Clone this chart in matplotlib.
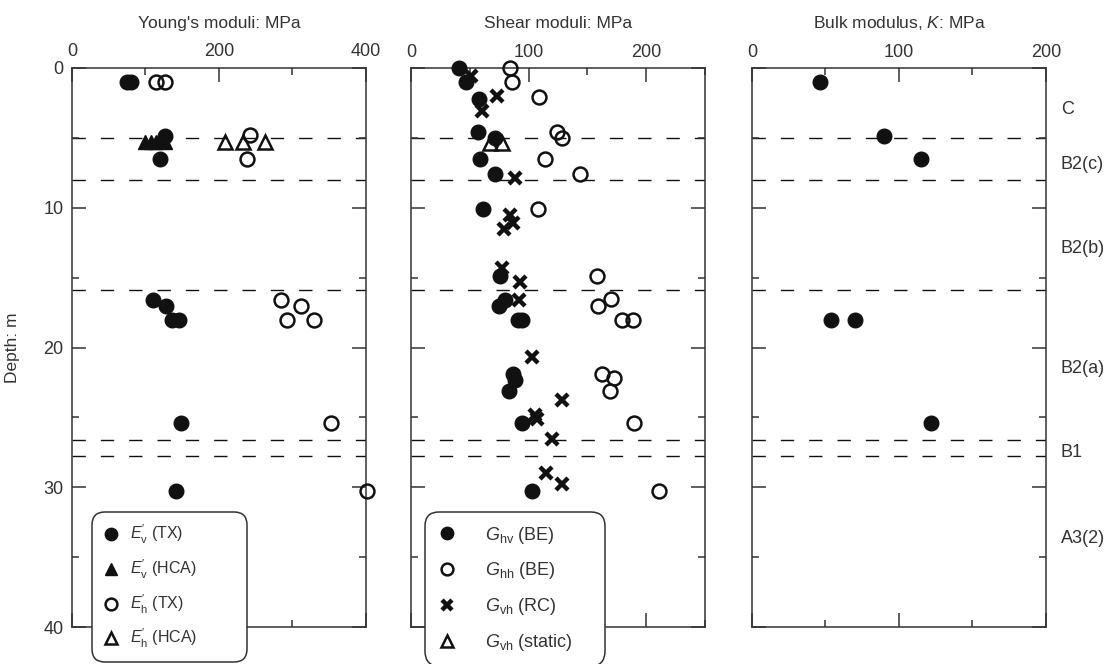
import numpy as np
import matplotlib
matplotlib.use('Agg')
import matplotlib.pyplot as plt
from matplotlib.ticker import MultipleLocator

plt.rcParams['font.family'] = ['Liberation Sans', 'DejaVu Sans']
plt.rcParams['mathtext.fontset'] = 'custom'
plt.rcParams['mathtext.rm'] = 'Liberation Sans'
plt.rcParams['mathtext.it'] = 'Liberation Sans:italic'
plt.rcParams['lines.scale_dashes'] = False

INK = '#111111'
GREY = '#333333'

# --- Young's moduli (MPa) vs depth (m) ---
ev_tx_depth = [1.0, 1.0, 4.9, 6.5, 16.6, 17.0, 18.0, 18.0, 25.4, 30.3]
ev_tx_val = [75, 81, 126, 120, 110, 128, 136, 145, 148, 142]
ev_hca_depth = [5.3, 5.3, 5.3, 5.3]
ev_hca_val = [99, 108, 115, 127]
eh_tx_depth = [1.0, 1.0, 4.8, 6.5, 16.6, 17.0, 18.0, 18.0, 25.4, 30.3]
eh_tx_val = [114, 127, 242, 238, 284, 312, 293, 329, 352, 402]
eh_hca_depth = [5.3, 5.3, 5.3]
eh_hca_val = [208, 233, 263]

# --- Shear moduli (MPa) ---
ghv_be_depth = [0.0, 1.0, 2.2, 4.6, 5.0, 6.5, 7.6, 10.1, 14.9, 16.6, 17.0, 18.0, 18.0,
                21.9, 22.3, 23.1, 25.4, 30.3]
ghv_be_val = [41, 47, 58, 57, 71, 59, 71, 61, 76, 80, 75, 91, 94, 87, 88, 83, 94, 103]
ghh_be_depth = [0.0, 1.0, 2.1, 4.6, 5.0, 6.5, 7.6, 10.1, 14.9, 16.55, 17.0, 18.0, 18.0,
                21.9, 22.2, 23.1, 25.4, 30.3]
ghh_be_val = [84, 86, 109, 124, 128, 114, 144, 108, 158, 170, 159, 179, 189, 162, 173, 169, 190, 211]
gvh_rc_depth = [0.6, 2.0, 3.1, 7.9, 10.5, 11.1, 11.5, 14.3, 15.3, 16.6, 20.7, 23.75, 24.8,
                25.1, 26.55, 29.0, 29.8]
gvh_rc_val = [51, 73, 60, 88, 84, 87, 79, 77, 93, 92, 103, 128, 105, 107, 120, 115, 128]
gvh_static_depth = [5.4, 5.4]
gvh_static_val = [67, 77]

# --- Bulk modulus (MPa) ---
k_depth = [1.0, 4.9, 6.5, 18.0, 18.0, 25.4]
k_val = [46, 90, 115, 54, 70, 122]

# stratum boundaries and unit names
boundaries = [5.0, 8.0, 15.9, 26.65, 27.75]
units = ['C', 'B2(c)', 'B2(b)', 'B2(a)', 'B1', 'A3(2)']
unit_depths = [3.0, 6.9, 12.9, 21.5, 27.5, 33.7]

filled_o = dict(ls='none', marker='o', ms=10.5, mfc=INK, mec=INK, mew=1)
filled_t = dict(ls='none', marker='^', ms=10, mfc=INK, mec=INK, mew=1)
open_o = dict(ls='none', marker='o', ms=10, mfc='none', mec=INK, mew=1.8)
open_t = dict(ls='none', marker='^', ms=9.5, mfc='none', mec=INK, mew=1.8)
cross = dict(ls='none', marker='x', ms=9, mec=INK, mew=3.2)


def setup(ax, xmax, major, title):
    ax.set_xlim(0, xmax)
    ax.set_ylim(40, 0)
    ax.xaxis.set_major_locator(MultipleLocator(major))
    ax.xaxis.set_minor_locator(MultipleLocator(major / 2))
    ax.yaxis.set_major_locator(MultipleLocator(10))
    ax.yaxis.set_minor_locator(MultipleLocator(5))
    ax.tick_params(which='both', direction='in', top=True, bottom=True, left=True, right=True,
                   labeltop=True, labelbottom=False, colors=GREY, width=1.1, labelsize=13)
    ax.tick_params(which='major', length=10, pad=5)
    ax.tick_params(which='minor', length=5)
    for sp in ax.spines.values():
        sp.set_color(GREY)
        sp.set_linewidth(1.1)
    ax.text(0.5, 1.08, title, transform=ax.transAxes, ha='center', va='center',
            fontsize=12.5, color=GREY)
    for d in boundaries:
        ax.axhline(d, color=INK, lw=1.0, ls=(0, (9.6, 10.8)), zorder=1)


fig = plt.figure(figsize=[11.07, 6.64], dpi=100)
w, h, b = 0.2656, 0.8419, 0.0557
ax_e = fig.add_axes([0.0650, b, w, h])
ax_g = fig.add_axes([0.3713, b, w, h])
ax_k = fig.add_axes([0.6793, b, w, h])

setup(ax_e, 400, 200, "Young's moduli: MPa")
setup(ax_g, 250, 100, 'Shear moduli: MPa')
setup(ax_k, 200, 100, r'Bulk modulus, $K$: MPa')
ax_g.tick_params(which='both', labelleft=False)
ax_k.tick_params(which='both', labelleft=False)
ax_e.tick_params(which='both', pad=6)
ax_e.set_ylabel('Depth: m', fontsize=12.5, color=GREY)
ax_e.yaxis.set_label_coords(-0.177, 0.5)

# Young's moduli
ax_e.plot(ev_tx_val, ev_tx_depth, label="$E^{′}_{\\mathrm{v}}$ (TX)", clip_on=False, zorder=3, **filled_o)
ax_e.plot(ev_hca_val, ev_hca_depth, label="$E^{′}_{\\mathrm{v}}$ (HCA)", clip_on=False, zorder=3, **filled_t)
ax_e.plot(eh_tx_val, eh_tx_depth, label="$E^{′}_{\\mathrm{h}}$ (TX)", clip_on=False, zorder=3, **open_o)
ax_e.plot(eh_hca_val, eh_hca_depth, label="$E^{′}_{\\mathrm{h}}$ (HCA)", clip_on=False, zorder=3, **open_t)

# Shear moduli
ax_g.plot(ghv_be_val, ghv_be_depth, label=r'$G_{\mathrm{hv}}$ (BE)', clip_on=False, zorder=3, **filled_o)
ax_g.plot(ghh_be_val, ghh_be_depth, label=r'$G_{\mathrm{hh}}$ (BE)', clip_on=False, zorder=3, **open_o)
ax_g.plot(gvh_rc_val, gvh_rc_depth, label=r'$G_{\mathrm{vh}}$ (RC)', clip_on=False, zorder=3, **cross)
ax_g.plot(gvh_static_val, gvh_static_depth, label=r'$G_{\mathrm{vh}}$ (static)', clip_on=False, zorder=3, **open_t)

# Bulk modulus
ax_k.plot(k_val, k_depth, clip_on=False, zorder=3, **filled_o)

for name, d in zip(units, unit_depths):
    ax_k.text(1.051, d, name, transform=ax_k.get_yaxis_transform(), ha='left', va='center',
              fontsize=13, color=GREY)

# legends hang below the bottom spine, stretched to a fixed box width
top = 1 - 512 / 664
leg_e = ax_e.legend(loc='upper left', bbox_to_anchor=(92 / 1107, top - 0.3, 155 / 1107, 0.3),
                    bbox_transform=fig.transFigure, mode='expand', fontsize=11.5, labelspacing=0.72,
                    handlelength=1.0, handletextpad=0.7, borderpad=0.7, borderaxespad=0,
                    markerscale=0.85, framealpha=1, edgecolor=GREY, fancybox=True)
leg_g = ax_g.legend(loc='upper left', bbox_to_anchor=(425 / 1107, top - 0.3, 180 / 1107, 0.3),
                    bbox_transform=fig.transFigure, mode='expand', fontsize=13, labelspacing=0.82,
                    handlelength=1.0, handletextpad=1.6, borderpad=0.7, borderaxespad=0,
                    markerscale=0.85, framealpha=1, edgecolor=GREY, fancybox=True)
for leg in (leg_e, leg_g):
    leg.get_frame().set_boxstyle('round,pad=0,rounding_size=0.8')
    leg.get_frame().set_linewidth(1.1)
    for t in leg.get_texts():
        t.set_color(GREY)

fig.savefig('out.png', dpi=100)
